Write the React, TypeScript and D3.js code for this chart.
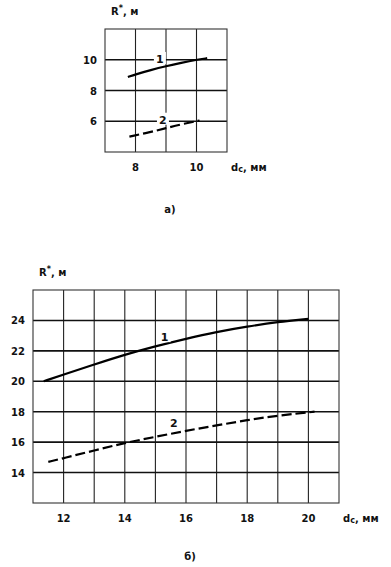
import React from "react";
import * as d3 from "d3";

// Chart a)
const aXTicks = [8, 10];
const aYTicks = [6, 8, 10];
const aXGrid = [8, 9, 10];
const aCurve1X = [7.75, 8, 8.5, 9, 9.5, 10, 10.35];
const aCurve1Y = [8.88, 9.05, 9.33, 9.58, 9.8, 10.0, 10.1];
const aCurve2X = [7.8, 8.5, 9, 9.5, 10.1];
const aCurve2Y = [5.0, 5.3, 5.55, 5.8, 6.05];

// Chart б)
const bXTicks = [12, 14, 16, 18, 20];
const bYTicks = [14, 16, 18, 20, 22, 24];
const bXGrid = [12, 13, 14, 15, 16, 17, 18, 19, 20];
const bCurve1X = [11.35, 12, 13, 14, 15, 16, 17, 18, 19, 20];
const bCurve1Y = [20.0, 20.45, 21.1, 21.75, 22.3, 22.8, 23.25, 23.6, 23.9, 24.1];
const bCurve2X = [11.5, 12, 13, 14, 15, 16, 17, 18, 19, 20.2];
const bCurve2Y = [14.7, 14.95, 15.45, 15.95, 16.35, 16.75, 17.1, 17.45, 17.75, 18.0];

type Cfg = {
  left: number; top: number; right: number; bottom: number;
  xDom: [number, number]; yDom: [number, number];
  xTicks: number[]; yTicks: number[]; xGrid: number[];
  c1x: number[]; c1y: number[]; c2x: number[]; c2y: number[];
  l1: [number, number]; l2: [number, number];
  caption: string; captionY: number;
};

function Panel({ c }: { c: Cfg }) {
  const x = d3.scaleLinear().domain(c.xDom).range([c.left, c.right]);
  const y = d3.scaleLinear().domain(c.yDom).range([c.bottom, c.top]);
  const line = d3.line<[number, number]>().x(d => x(d[0])).y(d => y(d[1])).curve(d3.curveBasis);
  const p1 = line(c.c1x.map((v, i) => [v, c.c1y[i]] as [number, number])) || "";
  const p2 = line(c.c2x.map((v, i) => [v, c.c2y[i]] as [number, number])) || "";
  const font = "'DejaVu Sans', sans-serif";
  return (
    <g fontFamily={font} fontWeight="bold" fill="#111">
      {c.xGrid.map(v => (
        <line key={"vx" + v} x1={x(v)} x2={x(v)} y1={c.top} y2={c.bottom} stroke="#222" strokeWidth={1.1} />
      ))}
      {c.yTicks.map(v => (
        <line key={"hy" + v} x1={c.left} x2={c.right} y1={y(v)} y2={y(v)} stroke="#111" strokeWidth={1.6} />
      ))}
      <rect x={c.left} y={c.top} width={c.right - c.left} height={c.bottom - c.top} fill="none" stroke="#333" strokeWidth={1.1} />
      <path d={p1} fill="none" stroke="#000" strokeWidth={2.2} />
      <path d={p2} fill="none" stroke="#000" strokeWidth={2.2} strokeDasharray="10,4" />
      <rect x={x(c.l1[0]) - 6} y={y(c.l1[1]) - 7} width={12} height={12} fill="#fff" />
      <text x={x(c.l1[0])} y={y(c.l1[1]) + 4} fontSize={11} textAnchor="middle">1</text>
      <rect x={x(c.l2[0]) - 6} y={y(c.l2[1]) - 7} width={12} height={12} fill="#fff" />
      <text x={x(c.l2[0])} y={y(c.l2[1]) + 4} fontSize={11} textAnchor="middle">2</text>
      {c.yTicks.map(v => (
        <text key={"ty" + v} x={c.left - 8} y={y(v) + 4} fontSize={10} textAnchor="end">{v}</text>
      ))}
      {c.xTicks.map(v => (
        <text key={"tx" + v} x={x(v)} y={c.bottom + 19} fontSize={10} textAnchor="middle">{v}</text>
      ))}
      <text x={c.right + 4} y={c.bottom + 19} fontSize={10}>
        d<tspan fontSize={8} dy={1}>c</tspan><tspan dy={-1}>, мм</tspan>
      </text>
      <text x={c.left + 6} y={c.top - 14} fontSize={10}>
        R<tspan fontSize={8} dy={-4}>*</tspan><tspan dy={4}>, м</tspan>
      </text>
      <text x={(c.left + c.right) / 2 + 4} y={c.captionY} fontSize={10} textAnchor="middle">{c.caption}</text>
    </g>
  );
}

export default function App() {
  const a: Cfg = {
    left: 105, top: 29, right: 227, bottom: 152,
    xDom: [7, 11], yDom: [4, 12], xTicks: aXTicks, yTicks: aYTicks, xGrid: aXGrid,
    c1x: aCurve1X, c1y: aCurve1Y, c2x: aCurve2X, c2y: aCurve2Y,
    l1: [8.8, 10.05], l2: [8.9, 6.1], caption: "а)", captionY: 213,
  };
  const b: Cfg = {
    left: 33, top: 290, right: 339, bottom: 503,
    xDom: [11, 21], yDom: [12, 26], xTicks: bXTicks, yTicks: bYTicks, xGrid: bXGrid,
    c1x: bCurve1X, c1y: bCurve1Y, c2x: bCurve2X, c2y: bCurve2Y,
    l1: [15.3, 22.9], l2: [15.6, 17.25], caption: "б)", captionY: 560,
  };
  return (
    <svg width={391} height={567} style={{ position: "absolute", left: 0, top: 0, background: "#fff" }}>
      <rect width={391} height={567} fill="#fff" />
      <Panel c={a} />
      <Panel c={b} />
    </svg>
  );
}
